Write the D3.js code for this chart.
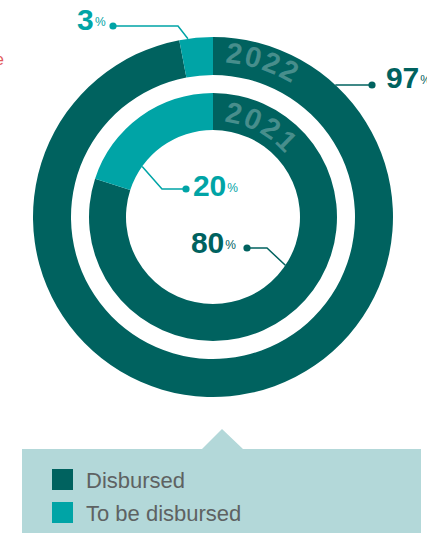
<!DOCTYPE html>
<html>
<head>
<meta charset="utf-8">
<script src="https://cdn.jsdelivr.net/npm/d3@7/dist/d3.min.js"></script>
<style>
  html, body { margin: 0; padding: 0; background: #fff; }
  svg { display: block; font-family: "Liberation Sans", Arial, Helvetica, sans-serif; }
</style>
</head>
<body>
<svg id="chart" width="427" height="533"></svg>
<script>
// Disbursement status by year (shares in %)
const years = ["2022", "2021"];
const categories = ["Disbursed", "To be disbursed"];
const disbursed = [97, 80];       // 2022, 2021
const toBeDisbursed = [3, 20];    // 2022, 2021

const colors = { "Disbursed": "#00625f", "To be disbursed": "#00a4a6" };

const cx = 213, cy = 217;
// ring geometry: outer ring = 2022, inner ring = 2021
const rings = [
  { inner: 142, outer: 180, textR: 155, textOffset: 12 },
  { inner: 87,  outer: 124, textR: 96,  textOffset: 11 }
];

const svg = d3.select("#chart");

// clipped red caption fragment at the left edge
svg.append("text")
  .attr("x", -5).attr("y", 65)
  .attr("font-size", 16)
  .attr("fill", "#e25a5a")
  .text("e");

const pie = d3.pie().sort(null).value(d => d.value);

const g = svg.append("g").attr("transform", `translate(${cx},${cy})`);

years.forEach((year, i) => {
  const data = [
    { cat: categories[0], value: disbursed[i] },
    { cat: categories[1], value: toBeDisbursed[i] }
  ];
  const arc = d3.arc().innerRadius(rings[i].inner).outerRadius(rings[i].outer);
  g.selectAll(null)
    .data(pie(data))
    .enter().append("path")
    .attr("d", arc)
    .attr("fill", d => colors[d.data.cat]);

  // year written along the ring
  const rText = rings[i].textR;
  const pathId = "yearPath" + i;
  const a0 = 0, a1 = Math.PI * 0.9;
  g.append("path")
    .attr("id", pathId)
    .attr("fill", "none")
    .attr("d", `M ${rText * Math.sin(a0)} ${-rText * Math.cos(a0)} A ${rText} ${rText} 0 0 1 ${rText * Math.sin(a1)} ${-rText * Math.cos(a1)}`);
  g.append("text")
    .attr("font-size", 29)
    .attr("font-weight", "bold")
    .attr("fill", "#ffffff")
    .attr("fill-opacity", 0.28)
    .attr("letter-spacing", 2)
    .append("textPath")
    .attr("href", "#" + pathId)
    .attr("startOffset", rings[i].textOffset)
    .text(year);
});

// value labels with leader lines
const labels = [
  { value: disbursed[0],     cat: categories[0], ring: 0, edge: "outer", deg: 42.8,  elbow: null,       dot: [372, 85],  text: [386, 88] },
  { value: toBeDisbursed[0], cat: categories[1], ring: 0, edge: "outer", deg: -8,    elbow: [178, 26],  dot: [113, 26],  text: [77, 30] },
  { value: toBeDisbursed[1], cat: categories[1], ring: 1, edge: "inner", deg: -54.5, elbow: [162, 189], dot: [186, 189], text: [193, 196] },
  { value: disbursed[1],     cat: categories[0], ring: 1, edge: "inner", deg: 123.7, elbow: [267, 248], dot: [247, 248], text: [191, 253] }
];

labels.forEach(l => {
  const col = colors[l.cat];
  const r = rings[l.ring][l.edge];
  const a = l.deg * Math.PI / 180;
  const p = [cx + r * Math.sin(a), cy - r * Math.cos(a)];
  const pts = [p];
  if (l.elbow) pts.push(l.elbow);
  pts.push(l.dot);
  svg.append("path")
    .attr("d", d3.line()(pts))
    .attr("fill", "none")
    .attr("stroke", col)
    .attr("stroke-width", 1.5);
  svg.append("circle")
    .attr("cx", l.dot[0]).attr("cy", l.dot[1]).attr("r", 3.6)
    .attr("fill", col);
  const t = svg.append("text")
    .attr("x", l.text[0]).attr("y", l.text[1])
    .attr("fill", col);
  t.append("tspan")
    .attr("font-size", 30)
    .attr("font-weight", "bold")
    .attr("letter-spacing", -0.3)
    .text(l.value);
  t.append("tspan")
    .attr("font-size", 12)
    .attr("dx", 1.5)
    .attr("dy", -4)
    .text("%");
});

// legend panel with pointer
const legend = svg.append("g");
legend.append("path")
  .attr("d", "M 22 449 L 202 449 L 222 429 L 243 449 L 421 449 L 421 540 L 22 540 Z")
  .attr("fill", "#b3d8d9");

categories.forEach((c, i) => {
  const y = 469 + i * 33;
  legend.append("rect")
    .attr("x", 52).attr("y", y)
    .attr("width", 21).attr("height", 21)
    .attr("fill", colors[c]);
  legend.append("text")
    .attr("x", 86).attr("y", y + 19)
    .attr("font-size", 22)
    .attr("fill", "#5e6262")
    .text(c);
});
</script>
</body>
</html>
